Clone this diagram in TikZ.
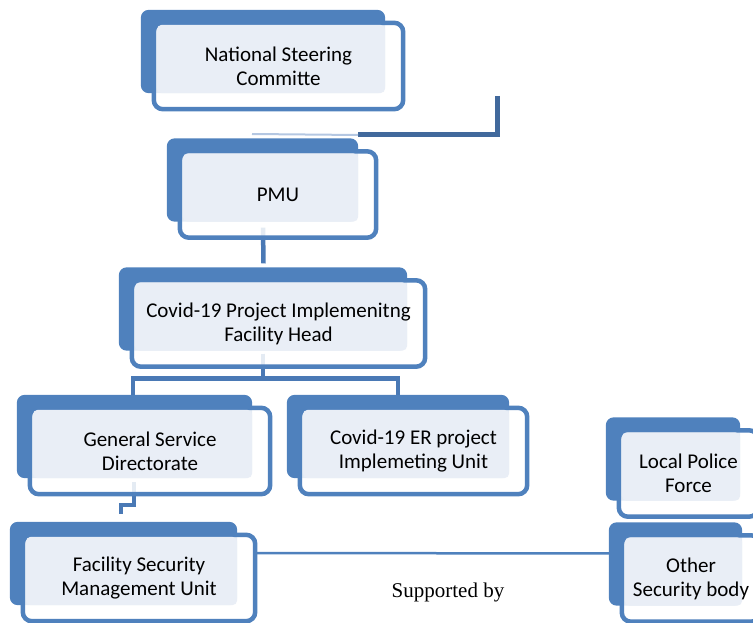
\documentclass[tikz,border=0pt]{standalone}
\usepackage{fontspec}
\setmainfont{Carlito}
\newfontfamily\suppfont{Liberation Serif}
\usepackage{xcolor}
\usepackage{tikz}
\usetikzlibrary{calc}
\usetikzlibrary{backgrounds}
\definecolor{unitblue}{HTML}{4F81BD}
\definecolor{unitlight}{HTML}{E9EEF6}
\definecolor{linkdark}{HTML}{41699C}
\definecolor{linkblue}{HTML}{4A79B5}
\definecolor{linkfade}{HTML}{B4C7E2}
\tikzset{ org_unit/.style = {rectangle, inner sep=0pt, minimum height=86pt, align=center, font=\fontsize{21}{24}\selectfont} }
\tikzset{ link_line/.style = {linkblue, line width=4.5pt} }
\tikzset{ link_dark/.style = {linkdark, line width=5pt} }
\tikzset{ link_fade/.style = {linkfade, line width=2pt} }
\tikzset{ support_line/.style = {unitblue, line width=2.5pt} }

\begin{document}
\begin{tikzpicture}[x=1pt,y=-1pt]
\useasboundingbox (0,0) rectangle (753,623);
\node[org_unit, minimum width=249pt] (nsc) at (278.5,66) {National Steering\\Committe};
\node[org_unit, minimum width=196pt] (pmu) at (278,194.5) {PMU};
\node[org_unit, minimum width=293pt] (head) at (278.5,323.5) {Covid-19 Project Implemenitng\\Facility Head};
\node[org_unit, minimum width=240pt] (gsd) at (150,451) {General Service\\Directorate};
\node[org_unit, minimum width=227pt] (eru) at (413.5,451) {Covid-19 ER project\\Implemeting Unit};
\node[org_unit, minimum width=232pt] (fsmu) at (139,578) {Facility Security\\Management Unit};
\node[org_unit, minimum width=139pt] (police) at (688.5,473.5) {Local Police\\Force};
\node[org_unit, minimum width=138pt] (other) at (691,578.5) {Other\\Security body};
\node[font=\suppfont\fontsize{21}{24}\selectfont] (supp) at (448,592) {Supported by};
\coordinate (nsctail) at (497,96);
\coordinate (nscjoin) at (358,135);
\coordinate (nscend) at (252,134);
\begin{scope}[on background layer]
% connectors go under the boxes
\draw[link_dark] (nsctail) |- (nscjoin);
\draw[link_fade] (nscjoin) -- (nscend);
\draw[link_line] ([xshift=-15pt,yshift=10pt]pmu.south) -- ([xshift=-15pt,yshift=17pt]head.north);
\draw[link_line] ([xshift=-15.5pt,yshift=13pt]head.south) -- ++(0,25) coordinate (fork);
\draw[link_line] ([xshift=-17pt]gsd.north) |- (fork) -| ([xshift=-15.5pt]eru.north);
\draw[link_line] ([xshift=-16pt,yshift=12pt]gsd.south) -- ++(0,23) -| ([xshift=-18pt,yshift=21pt]fsmu.north);
\draw[support_line] ([yshift=25pt]fsmu.east) -- ([yshift=25pt]other.west);
% box layers: shadow, frame, panel
\foreach \n in {nsc,pmu,head,gsd,eru,fsmu,police,other} {
  \fill[unitblue, rounded corners=8pt] ($(\n.north west)+(-13,-13)$) rectangle ($(\n.south east)+(-18,-16)$);
  \draw[unitblue, line width=4.5pt, fill=white, fill opacity=0.85, rounded corners=9pt] (\n.north west) rectangle (\n.south east);
  \fill[unitlight, rounded corners=5pt] ($(\n.north west)+(3,2)$) rectangle ($(\n.south east)+(-18,-16)$);
}
\end{scope}
\end{tikzpicture}
\end{document}
